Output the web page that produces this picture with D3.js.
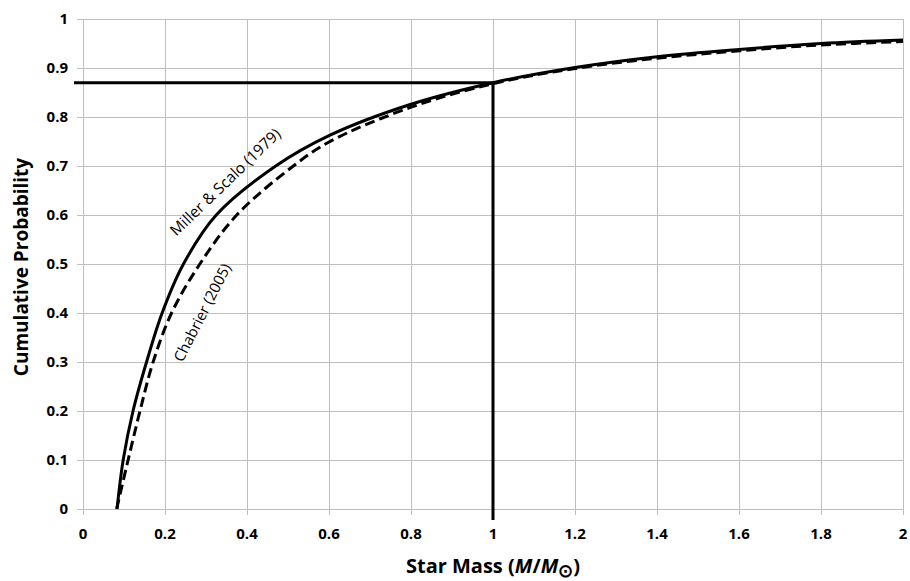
<!DOCTYPE html>
<html lang="en">
<head>
    <meta charset="UTF-8">
    <title>Cumulative Probability vs Star Mass</title>
    <script src="https://d3js.org/d3.v7.min.js"></script>
    <style>
        body {
            margin: 0;
            background: #fff;
            font-family: "Open Sans", Arial, sans-serif;
        }
        .tick-label {
            font-size: 15px;
            font-weight: bold;
            fill: #000;
        }
    </style>
</head>
<body>
    <div id="chart"></div>

    <script>
        // Miller & Scalo (1979), solid
        const millerMass = [0.083, 0.098, 0.122, 0.155, 0.193, 0.245, 0.325, 0.47, 0.6, 0.8, 1.0, 1.2, 1.4, 1.6, 1.8, 2.0];
        const millerCum  = [0, 0.1, 0.2, 0.3, 0.4, 0.5, 0.6, 0.7, 0.762, 0.826, 0.87, 0.901, 0.923, 0.938, 0.95, 0.957];

        // Chabrier (2005), dashed
        const chabMass = [0.082, 0.11, 0.139, 0.171, 0.216, 0.285, 0.375, 0.513, 0.6, 0.8, 1.0, 1.2, 1.4, 1.6, 1.8, 2.0];
        const chabCum  = [0, 0.1, 0.2, 0.3, 0.4, 0.5, 0.6, 0.7, 0.749, 0.82, 0.868, 0.899, 0.92, 0.935, 0.947, 0.954];

        const xTicks = [0, 0.2, 0.4, 0.6, 0.8, 1, 1.2, 1.4, 1.6, 1.8, 2];
        const yTicks = [0, 0.1, 0.2, 0.3, 0.4, 0.5, 0.6, 0.7, 0.8, 0.9, 1];

        // reference marker: 1 solar mass -> 0.87
        const markMass = 1;
        const markCum = 0.87;

        const width = 910, height = 581;
        const margin = { top: 19, right: 7, bottom: 72, left: 83 };

        const svg = d3.select("#chart").append("svg")
            .attr("width", width)
            .attr("height", height);

        const x = d3.scaleLinear().domain([0, 2]).range([margin.left, width - margin.right]);
        const y = d3.scaleLinear().domain([0, 1]).range([height - margin.bottom, margin.top]);

        const grid = svg.append("g").attr("stroke", "#bfbfbf").attr("stroke-width", 1);

        // vertical gridlines + ticks
        grid.selectAll("line.vx")
            .data(xTicks)
            .enter().append("line")
            .attr("x1", d => Math.round(x(d)) + 0.5)
            .attr("x2", d => Math.round(x(d)) + 0.5)
            .attr("y1", y(1))
            .attr("y2", y(0) + 6);

        // horizontal gridlines + ticks
        grid.selectAll("line.hy")
            .data(yTicks)
            .enter().append("line")
            .attr("x1", x(0) - 6)
            .attr("x2", x(2))
            .attr("y1", d => Math.round(y(d)) + 0.5)
            .attr("y2", d => Math.round(y(d)) + 0.5);

        // tick labels
        svg.append("g").selectAll("text")
            .data(xTicks)
            .enter().append("text")
            .attr("class", "tick-label")
            .attr("x", d => x(d))
            .attr("y", y(0) + 30)
            .attr("text-anchor", "middle")
            .text(d => d);

        svg.append("g").selectAll("text")
            .data(yTicks)
            .enter().append("text")
            .attr("class", "tick-label")
            .attr("x", x(0) - 15)
            .attr("y", d => y(d) + 5)
            .attr("text-anchor", "end")
            .text(d => d);

        // axis titles
        svg.append("text")
            .attr("transform", `translate(28,${(y(0) + y(1)) / 2 + 3}) rotate(-90)`)
            .attr("text-anchor", "middle")
            .style("font-size", "19px")
            .style("font-weight", "bold")
            .text("Cumulative Probability");

        const xt = svg.append("text")
            .attr("x", x(1))
            .attr("y", height - 8)
            .attr("text-anchor", "middle")
            .style("font-size", "20px")
            .style("font-weight", "bold");
        xt.append("tspan").text("Star Mass (");
        xt.append("tspan").style("font-style", "italic").text("M");
        xt.append("tspan").text("/");
        xt.append("tspan").style("font-style", "italic").text("M");
        xt.append("tspan").attr("dy", 4).style("font-size", "18px").text("\u2299");
        xt.append("tspan").attr("dy", -4).text(")");

        // marker lines
        svg.append("line")
            .attr("x1", x(0) - 9).attr("x2", x(markMass))
            .attr("y1", y(markCum)).attr("y2", y(markCum))
            .attr("stroke", "#000").attr("stroke-width", 3);
        svg.append("line")
            .attr("x1", x(markMass)).attr("x2", x(markMass))
            .attr("y1", y(markCum)).attr("y2", y(0) + 11)
            .attr("stroke", "#000").attr("stroke-width", 3);

        const line = d3.line()
            .x(d => x(d[0]))
            .y(d => y(d[1]))
            .curve(d3.curveCatmullRom.alpha(0.5));

        svg.append("path")
            .datum(d3.zip(chabMass, chabCum))
            .attr("fill", "none")
            .attr("stroke", "#000")
            .attr("stroke-width", 3)
            .attr("stroke-dasharray", "10,5")
            .attr("d", line);

        svg.append("path")
            .datum(d3.zip(millerMass, millerCum))
            .attr("fill", "none")
            .attr("stroke", "#000")
            .attr("stroke-width", 3)
            .attr("d", line);

        // curve labels
        svg.append("text")
            .attr("transform", "translate(229,186) rotate(-44)")
            .attr("text-anchor", "middle")
            .style("font-size", "15.5px")
            .text("Miller & Scalo (1979)");

        svg.append("text")
            .attr("transform", "translate(207,315) rotate(-63)")
            .attr("text-anchor", "middle")
            .style("font-size", "15px")
            .text("Chabrier (2005)");
    </script>
</body>
</html>
